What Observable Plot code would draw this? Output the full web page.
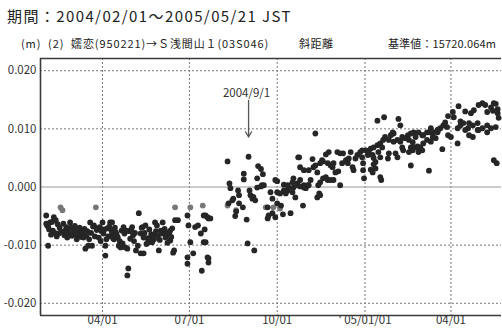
<!DOCTYPE html>
<html>
<head>
<meta charset="utf-8">
<script src="https://cdn.jsdelivr.net/npm/d3@7"></script>
<script src="https://cdn.jsdelivr.net/npm/@observablehq/plot@0.6"></script>
<style>
  body { margin: 0; background: #fff; }
  #wrap { position: relative; width: 502px; height: 329px; overflow: hidden; font-family: "Noto Sans CJK JP", sans-serif; color: #222; }
  #title { position: absolute; left: 7px; top: 5px; font-size: 15px; line-height: 22px; letter-spacing: 1.4px; white-space: nowrap; }
  #sub, #kind, #base { position: absolute; top: 35px; font-size: 11px; line-height: 16px; white-space: nowrap; }
  #sub { left: 21px; letter-spacing: 0.9px; }
  #kind { left: 299px; letter-spacing: 0.5px; }
  #base { left: 388px; letter-spacing: 0.15px; }
  #chart { position: absolute; left: 0; top: 50px; }
</style>
</head>
<body>
<div id="wrap">
  <div id="title">期間：2004/02/01～2005/05/21 JST</div>
  <div id="sub">(m)&nbsp;&nbsp;(2)&nbsp;&nbsp;嬬恋(950221)→Ｓ浅間山１(03S046)</div>
  <div id="kind">斜距離</div>
  <div id="base">基準値：15720.064m</div>
  <div id="chart"></div>
</div>
<script>
// Daily slope-distance residuals, [day since 2004-02-01, residual in mm]
const febApr2004 = [[1,-4.9],[1,-6.3],[2,-6.6],[3,-6.8],[3,-10.1],[4,-7.3],[5,-6.1],[6,-8.2],[7,-6.0],[8,-7.5],[9,-5.2],[10,-7.9],[11,-5.7],[12,-8.5],[13,-6.4],[14,-8.0],[15,-7.0],[17,-7.7],[19,-6.3],[20,-8.3],[21,-7.5],[22,-6.9],[23,-8.7],[24,-7.2],[25,-8.0],[26,-6.1],[27,-7.0],[28,-8.4],[29,-7.8],[30,-7.1],[31,-6.7],[32,-8.2],[33,-9.0],[34,-7.5],[35,-8.3],[36,-7.0],[37,-7.5],[38,-8.6],[39,-8.0],[40,-8.7],[41,-7.2],[42,-10.6],[43,-8.4],[44,-7.6],[45,-10.1],[46,-9.0],[47,-6.1],[48,-7.9],[49,-10.1],[50,-6.8],[51,-6.6],[52,-8.5],[54,-7.4],[55,-7.1],[56,-8.7],[57,-6.9],[58,-9.3],[59,-7.6],[60,-6.1],[61,-8.0],[62,-7.3],[63,-11.8],[63,-10.1],[64,-9.0],[65,-7.1],[66,-8.5],[67,-6.8],[68,-6.1],[69,-7.4],[70,-6.1],[70,-8.0],[71,-8.8],[72,-9.0],[73,-7.0],[74,-7.8],[75,-8.3],[76,-8.7],[77,-10.1],[78,-9.3],[79,-10.4],[80,-7.5],[81,-9.7],[82,-6.9],[83,-8.0],[84,-10.4],[85,-7.5],[86,-10.6],[86,-15.2],[87,-14.0],[88,-7.6],[89,-8.9]];
const mayJul2004 = [[90,-7.3],[91,-6.9],[92,-8.3],[93,-9.3],[94,-7.9],[95,-10.9],[97,-10.1],[98,-4.5],[100,-11.4],[100,-8.0],[101,-7.0],[102,-6.9],[103,-8.7],[103,-11.4],[104,-7.9],[105,-6.6],[106,-9.8],[107,-8.8],[108,-9.5],[109,-7.3],[110,-8.8],[111,-8.1],[112,-9.5],[113,-8.3],[114,-9.0],[115,-6.1],[116,-7.6],[117,-6.6],[118,-8.4],[119,-10.9],[120,-9.1],[121,-7.5],[122,-8.0],[123,-6.1],[124,-7.8],[125,-7.2],[126,-8.7],[127,-8.3],[128,-9.6],[129,-7.8],[130,-8.2],[131,-7.5],[131,-9.2],[132,-8.6],[133,-7.1],[134,-11.3],[135,-10.9],[136,-5.7],[139,-5.7],[149,-4.9],[149,-12.1],[149,-13.2],[150,-6.6],[152,-9.5],[155,-11.4],[157,-6.9],[160,-6.6],[163,-8.0],[164,-14.4],[166,-4.9],[166,-9.5],[167,-7.3],[168,-4.9],[168,-9.5],[170,-5.2],[170,-12.1],[171,-5.4],[171,-12.3],[171,-13.0],[173,-5.4]];
const augOct2004 = [[191,4.4],[192,-2.8],[193,0.6],[194,-0.2],[196,-2.3],[197,-2.0],[199,-5.0],[200,-4.2],[202,-0.6],[203,-1.4],[203,-2.8],[207,-3.5],[208,2.3],[208,1.3],[211,-5.6],[212,-9.7],[213,5.2],[214,-0.6],[215,-1.4],[217,-2.0],[218,-1.7],[219,-10.9],[220,-2.3],[222,1.5],[222,-0.1],[223,3.6],[226,3.1],[227,0.3],[228,2.2],[226,0.1],[229,0.3],[233,-5.4],[234,-4.9],[233,-3.5],[236,-0.9],[238,-2.0],[238,-4.5],[241,1.2],[241,-5.2],[243,1.0],[243,-0.9],[243,-2.8],[246,-1.1],[247,-3.2],[249,-4.7],[250,-0.6],[250,0.4],[252,-1.1],[254,-0.6],[254,0.3],[255,-0.1],[257,-4.5],[259,0.8],[259,-0.9],[260,1.5],[260,-0.1]];
const octDec2004 = [[262,-1.8],[264,0.3],[264,0.6],[265,5.1],[266,5.1],[267,3.4],[267,1.2],[267,0.1],[270,-3.2],[271,2.9],[271,0.3],[271,-0.1],[273,-0.2],[275,0.3],[276,2.9],[276,0.3],[278,1.2],[280,4.8],[281,3.4],[283,3.7],[283,9.2],[285,2.5],[285,-1.8],[286,0.3],[287,-1.1],[288,4.1],[288,0.8],[288,-1.4],[290,4.6],[291,4.4],[291,1.5],[294,5.6],[294,1.7],[296,4.1],[296,1.2],[297,6.0],[299,3.7],[299,1.2],[301,3.4],[302,4.1],[302,1.2],[304,2.5],[306,6.0],[307,2.7],[309,5.8],[309,0.3],[311,4.1],[312,5.8],[315,4.6],[317,4.1],[318,4.9],[320,6.0],[322,3.4],[323,2.9],[325,4.9],[327,5.5],[330,6.0],[332,5.1],[332,6.3],[333,4.1],[333,2.9],[334,1.5]];
const janFeb2005 = [[336,6.3],[338,5.5],[338,6.0],[339,6.0],[341,6.6],[341,3.0],[343,5.5],[343,2.5],[344,6.8],[344,5.0],[344,3.9],[346,4.3],[346,3.2],[348,11.4],[348,7.2],[349,6.0],[351,7.5],[351,5.1],[351,1.7],[352,1.2],[353,6.8],[354,8.1],[355,12.0],[356,8.6],[359,4.9],[360,8.1],[360,5.8],[362,8.9],[364,9.4],[365,9.2],[365,7.8],[367,5.8],[369,8.1],[369,5.1],[370,11.7],[372,10.6],[372,7.8],[374,8.6],[374,6.8],[375,6.3],[377,8.4],[380,8.9],[381,8.1],[381,6.0],[383,9.2],[383,6.8],[383,3.7],[385,6.3],[385,7.7],[386,9.4],[386,6.8],[388,8.6],[390,6.8],[390,7.0],[391,9.4],[391,6.0],[393,6.8],[395,6.3],[395,8.9],[396,8.9],[396,7.5]];
const marMay2005 = [[400,9.4],[400,8.1],[402,9.4],[402,2.8],[404,9.4],[404,7.8],[404,10.1],[406,8.6],[407,9.4],[409,8.4],[411,9.4],[411,9.8],[412,9.9],[414,10.1],[416,6.5],[417,10.6],[419,11.1],[421,10.3],[422,12.2],[422,8.9],[425,8.6],[427,12.9],[428,12.0],[432,10.1],[432,7.5],[433,13.9],[435,11.3],[435,10.6],[438,11.0],[440,13.0],[440,9.8],[443,10.1],[444,11.0],[444,8.9],[446,12.7],[448,10.6],[448,8.6],[449,13.2],[453,11.0],[453,9.8],[454,14.1],[454,9.8],[458,14.4],[458,10.1],[461,14.1],[463,12.9],[463,10.6],[463,9.4],[467,13.7],[467,10.1],[469,13.1],[470,14.4],[470,4.6],[472,10.3],[472,14.3],[473,4.1],[474,12.7],[474,13.4],[475,11.9]];
// lower-quality solutions, drawn lighter
const flagged = [[16,-3.5],[18,-4.0],[53,-3.5],[136,-3.5],[152,-3.5],[165,-3.2],[191,-3.2],[200,-4.0],[231,-3.5],[239,-3.5],[246,-3.7]];

const xTicks = ["2004-04-01","2004-07-01","2004-10-01","2005-01-01","2005-04-01"];
const xTickLabels = ["04/01","07/01","10/01","' 05/01/01","04/01"];
const yTicks = [-0.02,-0.01,0,0.01,0.02];
const yTickLabels = ["-0.020","-0.010","0.000","0.010","0.020"];
const xDomain = [new Date("2004-01-27"), new Date("2005-05-24")];
const yDomain = [-0.0221, 0.0221];
const note = [{date: "2004-09-01", label: "2004/9/1", top: 0.0149, tip: 0.0086, textAt: 0.0161}];

const start = Date.UTC(2004, 1, 1);
const toRows = arr => arr.map(([d, mm]) => ({date: new Date(start + d * 864e5), value: mm / 1000}));
const obs = [febApr2004, mayJul2004, augOct2004, octDec2004, janFeb2005, marMay2005].flatMap(toRows);
const weak = toRows(flagged);
const xRows = xTicks.map((d, i) => ({date: new Date(d), label: xTickLabels[i]}));
const yRows = yTicks.map((v, i) => ({v, label: yTickLabels[i]}));
const noteRows = note.map(n => ({...n, date: new Date(n.date)}));
const grid = {stroke: "#777", strokeOpacity: 1, strokeWidth: 1, strokeDasharray: "2,2"};

const chart = Plot.plot({
  width: 502, height: 279,
  marginTop: 8, marginBottom: 14, marginLeft: 40, marginRight: 1,
  style: {fontFamily: '"Noto Sans CJK JP", sans-serif', fontSize: "11.5px", color: "#333", background: "transparent", overflow: "visible"},
  x: {type: "utc", domain: xDomain, axis: null},
  y: {domain: yDomain, axis: null},
  marks: [
    Plot.ruleX(xRows, {x: "date", ...grid}),
    Plot.ruleY(yTicks.filter(v => v !== 0), grid),
    Plot.ruleY([0], {stroke: "#9a9a9a", strokeWidth: 1.2}),
    Plot.dot(weak, {x: "date", y: "value", r: 2.9, fill: "#777", stroke: "none"}),
    Plot.dot(obs, {x: "date", y: "value", r: 2.9, fill: "#262626", stroke: "none"}),
    Plot.arrow(noteRows, {x1: "date", x2: "date", y1: "top", y2: "tip", stroke: "#555", strokeWidth: 1.3, headLength: 7}),
    Plot.text(noteRows, {x: "date", y: "textAt", text: "label", fontSize: 11.5, fill: "#333", dx: -2}),
    Plot.ruleX([xDomain[0]], {stroke: "#3a3a3a", strokeWidth: 1.6}),
    Plot.ruleY(yDomain, {stroke: "#3a3a3a", strokeWidth: 1.6}),
    Plot.text(xRows, {x: "date", text: "label", frameAnchor: "bottom", dy: 8, fill: "#333"}),
    Plot.text(yRows, {y: "v", text: "label", frameAnchor: "left", textAnchor: "end", dx: -4, fill: "#333"})
  ]
});
document.getElementById("chart").append(chart);
</script>
</body>
</html>
